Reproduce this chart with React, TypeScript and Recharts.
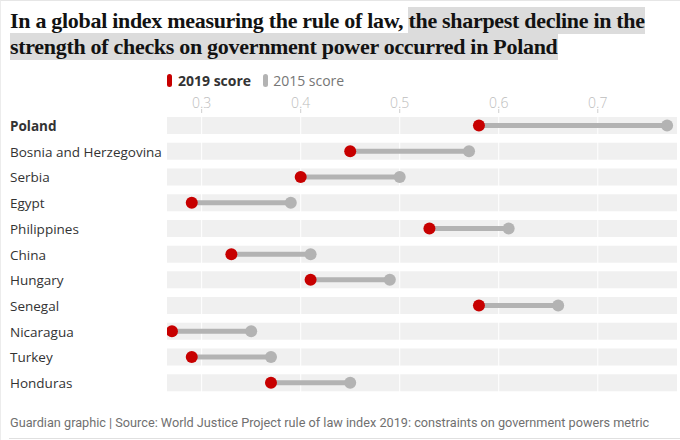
import React from "react";
import { ComposedChart, Bar, XAxis, YAxis, ReferenceLine } from "recharts";

const countries = [
  "Poland",
  "Bosnia and Herzegovina",
  "Serbia",
  "Egypt",
  "Philippines",
  "China",
  "Hungary",
  "Senegal",
  "Nicaragua",
  "Turkey",
  "Honduras",
];
const score2019 = [0.58, 0.45, 0.4, 0.29, 0.53, 0.33, 0.41, 0.58, 0.27, 0.29, 0.37];
const score2015 = [0.77, 0.57, 0.5, 0.39, 0.61, 0.41, 0.49, 0.66, 0.35, 0.37, 0.45];
const xTicks = [0.3, 0.4, 0.5, 0.6, 0.7];
const xDomain = [0.265, 0.78];

const data = countries.map((c, i) => ({
  country: c,
  range: [score2019[i], score2015[i]],
}));

const RED = "#c70000";
const GREY = "#b3b3b3";
const SANS = "'Open Sans', 'Noto Sans', sans-serif";
const MARGIN = { top: 93, right: 3, bottom: 44, left: 10 };

const Dumbbell = (props: any) => {
  const { x, y, width, height } = props;
  const cy = y + height / 2;
  const x1 = x;
  const x2 = x + width;
  return (
    <g>
      <line x1={x1} y1={cy} x2={x2} y2={cy} stroke={GREY} strokeWidth={5} />
      <circle cx={x2} cy={cy} r={6} fill={GREY} />
      <circle cx={x1} cy={cy} r={6} fill={RED} />
    </g>
  );
};

const Empty = () => <g />;

const CountryTick = (props: any) => {
  const { y, payload } = props;
  const bold = payload.value === "Poland";
  return (
    <text
      x={10}
      y={y}
      dy={5}
      textAnchor="start"
      fontFamily={SANS}
      fontSize={13.5}
      fontWeight={bold ? 700 : 400}
      fill="#333"
    >
      {payload.value}
    </text>
  );
};

const ValueTick = (props: any) => {
  const { x, y, payload } = props;
  return (
    <text
      x={x}
      y={y}
      dy={1}
      textAnchor="middle"
      fontFamily={SANS}
      fontSize={14}
      fontWeight={300}
      fill="#bdbdbd"
    >
      {payload.value}
    </text>
  );
};

function Layer({ front }: { front: boolean }) {
  return (
    <ComposedChart
      width={680}
      height={440}
      data={data}
      layout="vertical"
      margin={MARGIN}
      barCategoryGap={0}
    >
      <XAxis
        type="number"
        orientation="top"
        domain={xDomain}
        ticks={xTicks}
        height={20}
        axisLine={false}
        tickLine={front ? false : { stroke: "#cfcfcf" }}
        tickSize={4}
        tick={front ? false : <ValueTick />}
        allowDataOverflow
      />
      <YAxis
        type="category"
        dataKey="country"
        width={157}
        axisLine={false}
        tickLine={false}
        tick={front ? false : <CountryTick />}
        interval={0}
      />
      {front ? (
        <Bar dataKey="range" barSize={17} shape={<Dumbbell />} isAnimationActive={false} />
      ) : (
        <Bar
          dataKey="range"
          barSize={17}
          background={{ fill: "#f0f0f0" }}
          shape={<Empty />}
          isAnimationActive={false}
        />
      )}
      {!front &&
        xTicks.map((t) => <ReferenceLine key={t} x={t} stroke="#ffffff" strokeWidth={1} />)}
    </ComposedChart>
  );
}

const hl: React.CSSProperties = {
  background: "#dcdcdc",
  padding: "1px 0",
};

export default function App() {
  return (
    <div
      style={{
        position: "absolute",
        left: 0,
        top: 0,
        width: 680,
        height: 440,
        background: "#fff",
        overflow: "hidden",
        borderTop: "1px solid #e6e6e6",
        borderLeft: "1px solid #ececec",
        boxSizing: "border-box",
      }}
    >
      <div
        style={{
          position: "absolute",
          left: 9,
          top: 7,
          width: 670,
          fontFamily: "'Liberation Serif', serif",
          fontWeight: 700,
          fontSize: 22,
          lineHeight: "26px",
          color: "#121212",
          letterSpacing: -0.3,
          whiteSpace: "nowrap",
        }}
      >
        <div>
          In a global index measuring the rule of law, <span style={hl}>the sharpest decline in the</span>
        </div>
        <div>
          <span style={hl}>strength of checks on government power occurred in Poland</span>
        </div>
      </div>

      <div
        style={{
          position: "absolute",
          left: 166,
          top: 70,
          display: "flex",
          alignItems: "center",
          fontFamily: SANS,
          fontSize: 14,
        }}
      >
        <span style={{ width: 5, height: 13, borderRadius: 3, background: RED, display: "inline-block", marginRight: 6 }} />
        <span style={{ fontWeight: 700, color: "#333", marginRight: 12 }}>2019 score</span>
        <span style={{ width: 5, height: 13, borderRadius: 3, background: GREY, display: "inline-block", marginRight: 5 }} />
        <span style={{ color: "#767676" }}>2015 score</span>
      </div>

      <div style={{ position: "absolute", left: -1, top: -1 }}>
        <Layer front={false} />
      </div>
      <div style={{ position: "absolute", left: -1, top: -1 }}>
        <Layer front={true} />
      </div>

      <div
        style={{
          position: "absolute",
          left: 9,
          top: 414,
          fontFamily: "Roboto, sans-serif",
          fontSize: 12.7,
          color: "#707070",
          whiteSpace: "nowrap",
        }}
      >
        Guardian graphic | Source: World Justice Project rule of law index 2019: constraints on government powers metric
      </div>
      <div style={{ position: "absolute", left: 8, right: 0, top: 437, height: 1, background: "#e0e0e0" }} />
    </div>
  );
}
